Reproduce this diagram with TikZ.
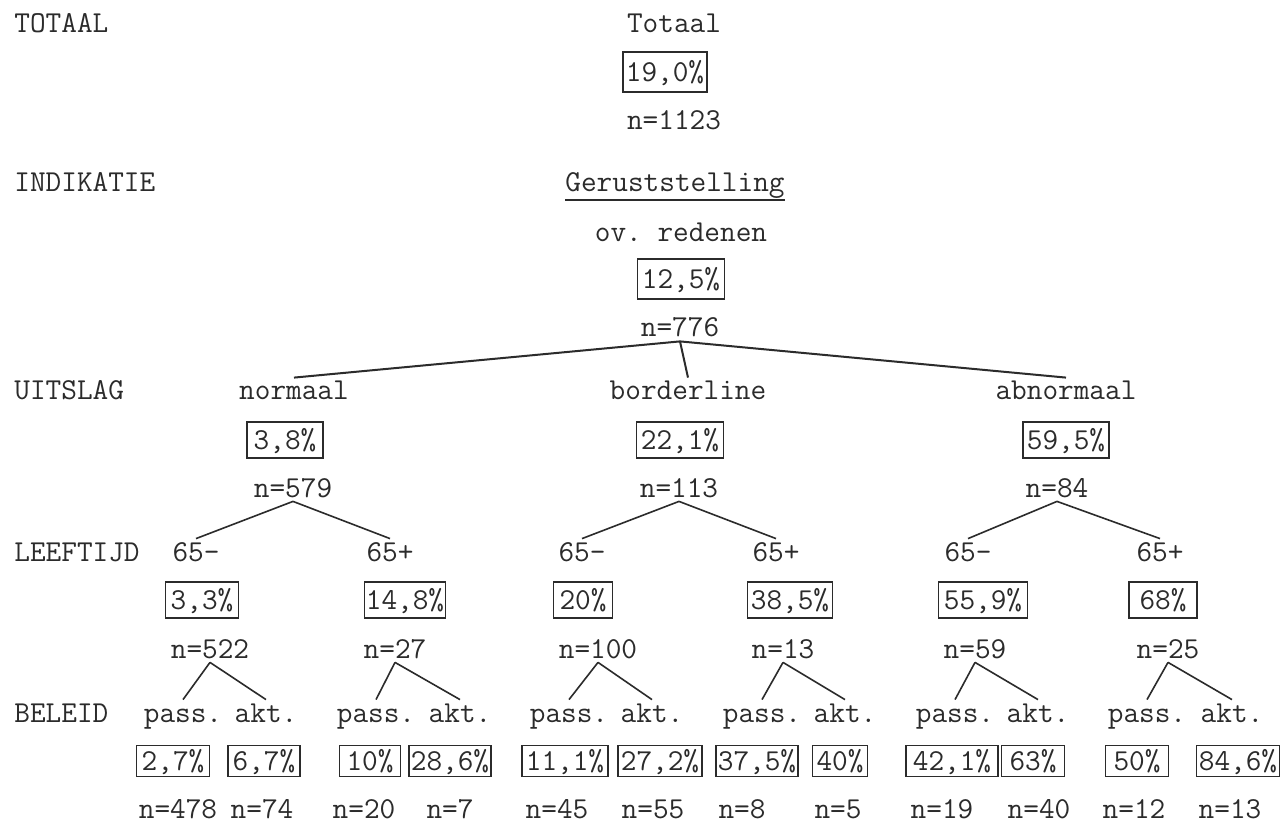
\documentclass[tikz,border=0pt]{standalone}
\usepackage{fontspec}
\definecolor{ink}{gray}{0.17}
\newcommand\twfont{\ttfamily\frenchspacing\fontsize{15.2}{18}\selectfont}
\begin{document}
\begin{tikzpicture}[x=0.5pt,y=-0.5pt,
  every node/.style={font=\twfont, text=ink},
  lbl/.style={inner xsep=0pt, inner ysep=2pt, text height=9pt, text depth=0pt, anchor=base},
  head/.style={lbl, anchor=base west},
  ul/.style={lbl, inner ysep=4pt},
  pbox/.style={draw=ink, line width=0.75pt, inner sep=0pt, text height=9.3pt, text depth=0pt},
  tall/.style={minimum height=20pt},
  mid/.style={minimum height=18pt},
  low/.style={minimum height=15.5pt},
  link/.style={draw=ink, line width=0.8pt},
  trunk/.style={draw=ink, line width=1pt},
  rule/.style={draw=ink, line width=0.9pt}]
\fill[white] (0,0) rectangle (1285,823);
\useasboundingbox (0,0) rectangle (1285,823);

% row headings
\node[head] (hTot) at (14,33)  {TOTAAL};
\node[head] (hInd) at (14,192) {INDIKATIE};
\node[head] (hUit) at (14,400) {UITSLAG};
\node[head] (hLft) at (14,561) {LEEFTIJD};
\node[head] (hBel) at (14,722) {BELEID};

% total and indication
\node[lbl] (tot) at (674,33) {Totaal};
\node[pbox, tall, minimum width=42pt] (p0) at (665,72) {19,0\%};
\node[lbl] (n0) at (674,130) {n=1123};
\node[ul] (ger) at (675,192) {Geruststelling};
\draw[rule] (ger.south west) -- (ger.south east);
\node[lbl] (ovr) at (681,242) {ov. redenen};
\node[pbox, tall, minimum width=43.5pt] (p1) at (681,279) {12,5\%};
\node[lbl] (n1) at (680,337) {n=776};

% outcome
\node[lbl] (nor) at (294,400) {normaal};
\node[pbox, mid, minimum width=38pt] (pN) at (285,440) {3,8\%};
\node[lbl] (nN) at (293,497) {n=579};
\node[lbl] (bor) at (688,400) {borderline};
\node[pbox, mid, minimum width=43.5pt] (pB) at (680,440) {22,1\%};
\node[lbl] (nB) at (679,497) {n=113};
\node[lbl] (abn) at (1066,400) {abnormaal};
\node[pbox, mid, minimum width=43pt] (pA) at (1066,440) {59,5\%};
\node[lbl] (nA) at (1057,497) {n=84};

\draw[trunk] (n1.south) -- (nor.north);
\draw[trunk] (n1.south) -- (bor.north);
\draw[trunk] (n1.south) -- (abn.north);

% age
\node[lbl] (a1) at (196,561) {65-};
\node[pbox, mid, minimum width=36.5pt] (q1) at (202,600) {3,3\%};
\node[lbl] (m1) at (210,658) {n=522};
\node[lbl] (a2) at (390,561) {65+};
\node[pbox, mid, minimum width=40.5pt] (q2) at (405,600) {14,8\%};
\node[lbl] (m2) at (395,658) {n=27};
\node[lbl] (a3) at (582,561) {65-};
\node[pbox, mid, minimum width=29.5pt] (q3) at (583,600) {20\%};
\node[lbl] (m3) at (598,658) {n=100};
\node[lbl] (a4) at (776,561) {65+};
\node[pbox, mid, minimum width=42.5pt] (q4) at (790,600) {38,5\%};
\node[lbl] (m4) at (783,658) {n=13};
\node[lbl] (a5) at (968,561) {65-};
\node[pbox, mid, minimum width=44.5pt] (q5) at (983,600) {55,9\%};
\node[lbl] (m5) at (975,658) {n=59};
\node[lbl] (a6) at (1160,561) {65+};
\node[pbox, mid, minimum width=34pt] (q6) at (1163,600) {68\%};
\node[lbl] (m6) at (1168,658) {n=25};

\draw[link] (nN.south) -- (a1.north);
\draw[link] (nN.south) -- (a2.north);
\draw[link] (nB.south) -- (a3.north);
\draw[link] (nB.south) -- (a4.north);
\draw[link] (nA.south) -- (a5.north);
\draw[link] (nA.south) -- (a6.north);

% policy
\node[lbl] (s1) at (183,722) {pass.};
\node[lbl] (k1) at (266,722) {akt.};
\node[pbox, low, minimum width=36.5pt] (r1) at (173,761) {2,7\%};
\node[pbox, low, minimum width=36pt] (t1) at (264,761) {6,7\%};
\node[lbl] (u1) at (178,818) {n=478};
\node[lbl] (v1) at (262,818) {n=74};

\node[lbl] (s2) at (376,722) {pass.};
\node[lbl] (k2) at (460,722) {akt.};
\node[pbox, low, minimum width=30.5pt] (r2) at (370,761) {10\%};
\node[pbox, low, minimum width=41pt] (t2) at (450,761) {28,6\%};
\node[lbl] (u2) at (364,818) {n=20};
\node[lbl] (v2) at (450,818) {n=7};

\node[lbl] (s3) at (569,722) {pass.};
\node[lbl] (k3) at (652,722) {akt.};
\node[pbox, low, minimum width=43pt] (r3) at (565,761) {11,1\%};
\node[pbox, low, minimum width=42pt] (t3) at (660,761) {27,2\%};
\node[lbl] (u3) at (557,818) {n=45};
\node[lbl] (v3) at (653,818) {n=55};

\node[lbl] (s4) at (762,722) {pass.};
\node[lbl] (k4) at (845,722) {akt.};
\node[pbox, low, minimum width=41pt] (r4) at (757,761) {37,5\%};
\node[pbox, low, minimum width=27.5pt] (t4) at (840,761) {40\%};
\node[lbl] (u4) at (742,818) {n=8};
\node[lbl] (v4) at (838,818) {n=5};

\node[lbl] (s5) at (955,722) {pass.};
\node[lbl] (k5) at (1038,722) {akt.};
\node[pbox, low, minimum width=46pt] (r5) at (952,761) {42,1\%};
\node[pbox, low, minimum width=31.5pt] (t5) at (1033,761) {63\%};
\node[lbl] (u5) at (942,818) {n=19};
\node[lbl] (v5) at (1039,818) {n=40};

\node[lbl] (s6) at (1147,722) {pass.};
\node[lbl] (k6) at (1232,722) {akt.};
\node[pbox, low, minimum width=31.5pt] (r6) at (1137,761) {50\%};
\node[pbox, low, minimum width=41.5pt] (t6) at (1238,761) {84,6\%};
\node[lbl] (u6) at (1134,818) {n=12};
\node[lbl] (v6) at (1230,818) {n=13};

\foreach \i in {1,...,6}{
  \draw[link] (m\i.south) -- (s\i.north);
  \draw[link] (m\i.south) -- (k\i.north);
}
\end{tikzpicture}
\end{document}
